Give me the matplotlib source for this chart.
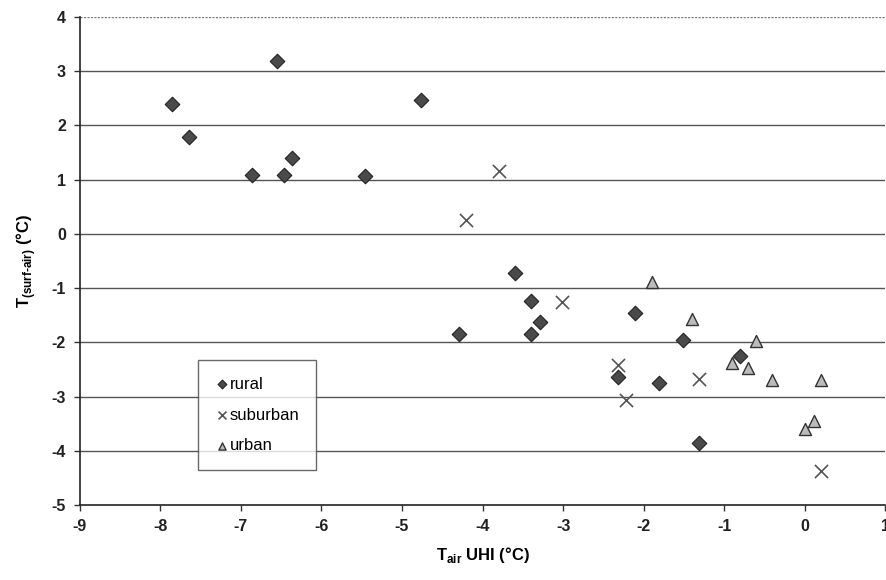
import matplotlib
matplotlib.use("Agg")
import matplotlib.pyplot as plt

plt.rcParams['font.family'] = ['Liberation Sans', 'DejaVu Sans']
plt.rcParams['mathtext.fontset'] = 'custom'
plt.rcParams['mathtext.rm'] = 'Liberation Sans:bold'
plt.rcParams['mathtext.bf'] = 'Liberation Sans:bold'
plt.rcParams['axes.unicode_minus'] = False

# rural sites
rural_x = [-7.86, -7.65, -6.55, -6.86, -6.47, -6.36, -5.46, -4.77,
           -3.60, -3.40, -3.29, -3.40, -4.29, -2.11, -1.51, -2.32,
           -1.81, -1.31, -0.80]
rural_y = [2.39, 1.79, 3.18, 1.09, 1.09, 1.39, 1.07, 2.47,
           -0.73, -1.24, -1.63, -1.84, -1.84, -1.46, -1.96, -2.64,
           -2.75, -3.85, -2.25]

# suburban sites
sub_x = [-3.79, -4.20, -3.01, -2.32, -2.22, -1.31, 0.20]
sub_y = [1.16, 0.25, -1.25, -2.42, -3.07, -2.67, -4.37]

# urban sites
urb_x = [-1.90, -1.40, -0.60, -0.90, -0.71, -0.40, 0.20, 0.00, 0.11]
urb_y = [-0.88, -1.57, -1.97, -2.38, -2.47, -2.70, -2.70, -3.59, -3.45]

xticks = list(range(-9, 2))
yticks = list(range(-5, 5))

fig = plt.figure(figsize=(8.87, 5.8), dpi=100)
ax = fig.add_axes([0.090, 0.129, 0.908, 0.842])

for y in yticks[1:-1]:
    ax.axhline(y, color='#555555', lw=1.0, zorder=1)
ax.axhline(4, color='#777777', lw=1.0, ls=(0, (1.5, 1)), zorder=1)

ax.scatter(rural_x, rural_y, marker='D', s=55, c='#4a4a4a',
           edgecolors='#222222', linewidths=0.8, zorder=3, label='rural')
ax.scatter(sub_x, sub_y, marker='x', s=90, c='#555555',
           linewidths=1.2, zorder=3, label='suburban')
ax.scatter(urb_x, urb_y, marker='^', s=75, c='#bbbbbb',
           edgecolors='#333333', linewidths=1.0, zorder=3, label='urban')

ax.set_xlim(-9, 1)
ax.set_ylim(-5, 4)
ax.set_xticks(xticks)
ax.set_yticks(yticks)
ax.tick_params(labelsize=11.5, length=4, width=1, color='#333333', pad=6)
for lab in ax.get_xticklabels() + ax.get_yticklabels():
    lab.set_fontweight('bold')
    lab.set_color('#222222')

for side in ['top', 'right']:
    ax.spines[side].set_visible(False)
ax.spines['left'].set_color('#222222')
ax.spines['bottom'].set_color('#222222')
ax.spines['left'].set_linewidth(1.2)
ax.spines['bottom'].set_linewidth(1.2)

ax.set_xlabel(r'T$_{\rm air}$ UHI (°C)', fontsize=12, fontweight='bold',
              labelpad=8)
ax.set_ylabel(r'T$_{\rm (surf\text{-}air)}$ (°C)', fontsize=12,
              fontweight='bold', labelpad=10)

leg = ax.legend(loc='lower left', bbox_to_anchor=(0.147, 0.072),
                fontsize=12, frameon=True, fancybox=False,
                handletextpad=0.1, handlelength=0.8, borderpad=1.0,
                labelspacing=0.95, markerscale=0.6, borderaxespad=0)
leg.get_frame().set_edgecolor('#444444')
leg.get_frame().set_linewidth(1.0)

fig.savefig('out.png', dpi=100)
